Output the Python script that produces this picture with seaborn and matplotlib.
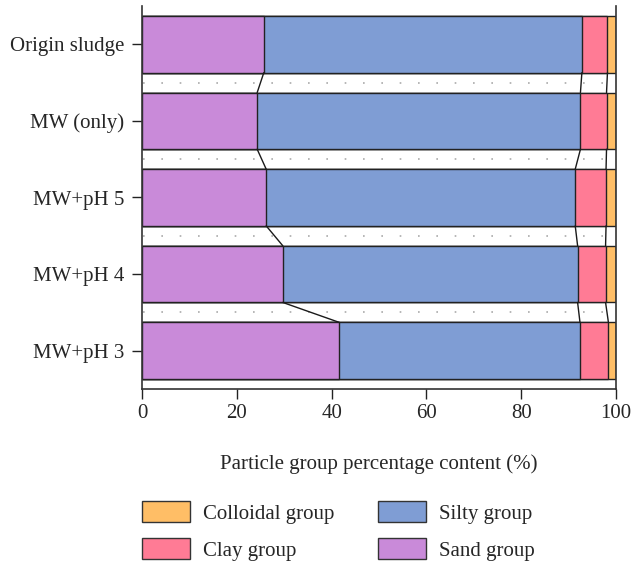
import numpy as np
import pandas as pd
import matplotlib
matplotlib.use("Agg")
import matplotlib.pyplot as plt
import seaborn as sns
from matplotlib.patches import Patch

# Particle size composition (%) of each sludge sample
samples = ["Origin sludge", "MW (only)", "MW+pH 5", "MW+pH 4", "MW+pH 3"]
sand = [25.7, 24.3, 26.2, 29.7, 41.6]
silty = [67.1, 68.2, 65.2, 62.2, 50.8]
clay = [5.4, 5.5, 6.5, 5.9, 6.0]
colloidal = [1.8, 2.0, 2.1, 2.2, 1.6]

group_names = ["Colloidal group", "Clay group", "Silty group", "Sand group"]
group_colors = {
    "Sand group": "#C98AD9",
    "Silty group": "#7F9DD4",
    "Clay group": "#FF7B95",
    "Colloidal group": "#FFBE66",
}

df = pd.DataFrame({"sample": samples, "Sand group": sand, "Silty group": silty,
                   "Clay group": clay, "Colloidal group": colloidal})
stack_order = ["Sand group", "Silty group", "Clay group", "Colloidal group"]
cum = df[stack_order].cumsum(axis=1)

sns.set_theme(style="ticks")
plt.rcParams["font.family"] = ["Liberation Serif", "DejaVu Serif"]
FS = 15

fig = plt.figure(figsize=(6.31, 5.65), dpi=100)
ax = fig.add_axes([142 / 631, 1 - 389 / 565, 474 / 631, 383 / 565])

bar_w = 0.74
# draw cumulative bars from the outermost segment inwards
for g in reversed(stack_order):
    sns.barplot(x=cum[g], y=df["sample"], color=group_colors[g], orient="h",
                width=bar_w, edgecolor="#222222", linewidth=1.0, saturation=1,
                ax=ax)

# dotted separators between rows
for i in range(len(samples) - 1):
    ax.plot([0.3, 100], [i + 0.5, i + 0.5], color="#aaaaaa",
            linestyle=(0, (1, 10)), linewidth=1.2, zorder=0.5)

# lines joining segment boundaries of neighbouring bars
half = bar_w / 2
for g in stack_order[:-1]:
    vals = cum[g].values
    for i in range(len(samples) - 1):
        ax.plot([vals[i], vals[i + 1]], [i + half, i + 1 - half],
                color="#1a1a1a", linewidth=1.0, zorder=3)

ax.set_xlim(0, 100)
ax.set_ylim(4.5, -0.5)
ax.set_xticks([0, 20, 40, 60, 80, 100])
ax.set_ylabel("")
ax.set_xlabel("Particle group percentage content (%)", fontsize=FS, labelpad=22)
ax.tick_params(axis="both", labelsize=FS, color="#222222", length=7, width=1)
ax.tick_params(axis="y", pad=6)
ax.tick_params(axis="x", pad=4)
for side in ["left", "bottom", "right"]:
    ax.spines[side].set_color("#333333")
    ax.spines[side].set_linewidth(1.2)
ax.spines["top"].set_visible(False)

handles = [Patch(facecolor=group_colors[g], edgecolor="#333333", linewidth=1.0)
           for g in group_names]
fig.legend(handles, group_names, loc="upper left", ncol=2,
           bbox_to_anchor=(142 / 631, 1 - 501 / 565), frameon=False,
           fontsize=FS, handlelength=2.3, handleheight=1.2,
           handletextpad=0.62, columnspacing=2.1, labelspacing=0.68,
           borderpad=0, borderaxespad=0)

fig.savefig("out.png", dpi=100)
